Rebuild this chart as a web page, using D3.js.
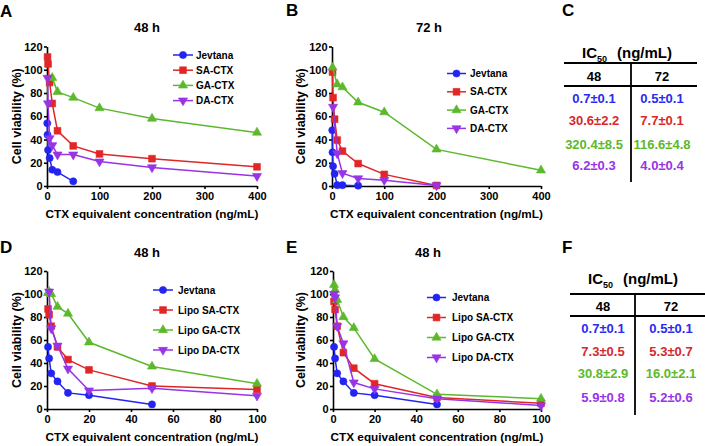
<!DOCTYPE html>
<html><head><meta charset="utf-8">
<script src="https://cdn.jsdelivr.net/npm/d3@7"></script>
<style>
body{margin:0;background:#fff}
svg{display:block}
text{font-family:Arial,"Liberation Sans",sans-serif;font-weight:bold}
</style>
</head><body>
<svg id="c" width="705" height="446"></svg>
<script>
// ---------- data ----------
const jevX = [0.5, 1, 2, 5, 10, 20, 50];
const jev48 = [54, 44, 31, 24, 14, 12, 4];
const jev72 = [48, 29, 17, 10.5, 0.7, 0.7, 0.3];

const saX48 = [1, 2, 5, 10, 20, 50, 100, 200, 400];
const sa48 = [111, 105, 89, 71, 47.5, 34.5, 27.6, 23.5, 16.5];
const gaX48 = [10, 20, 50, 100, 200, 400];
const ga48 = [93, 81, 76, 67, 58, 46];
const daX48 = [1, 2, 5, 10, 20, 50, 100, 200, 400];
const da48 = [93, 71, 41, 35, 27, 27, 21, 16, 8.5];

const saX72 = [1, 2, 5, 10, 20, 50, 100, 200];
const sa72 = [98, 76, 57.5, 39.5, 30, 19.3, 10, 0.5];
const gaX72 = [1, 10, 20, 50, 100, 200, 400];
const ga72 = [102, 87.5, 85, 72, 63.5, 31.5, 13.5];
const daX72 = [2, 10, 20, 50, 100, 200];
const da72 = [68, 28, 11, 6.5, 5, 0.5];

const lipoX = [0.5, 1, 2, 5, 10, 20, 50, 100];
const lipoSA_D = [87, 82, 72, 54, 43, 34, 20, 17];
const lipoGA_D = [101, 102, 100, 89, 83, 58, 37, 22];
const lipoDAX_D = [1, 2, 5, 10, 20, 50, 100];
const lipoDA_D = [102, 70, 55, 35, 16, 18, 11.5];

const lipoSA_E = [93.5, 86.5, 72, 49, 35.5, 22, 10, 5];
const lipoGA_E = [108, 103.5, 95, 80, 70.5, 43.5, 12.8, 9];
const lipoDA_E = [100, 97, 72, 57, 23, 17.5, 9, 3];

const namesTop = ["Jevtana", "SA-CTX", "GA-CTX", "DA-CTX"];
const namesBottom = ["Jevtana", "Lipo SA-CTX", "Lipo GA-CTX", "Lipo DA-CTX"];

const xTicks400 = [0, 100, 200, 300, 400];
const xTicks100 = [0, 20, 40, 60, 80, 100];
const yTicks = [0, 20, 40, 60, 80, 100, 120];

const icHeader = ["48", "72"];
const icC48 = ["0.7±0.1", "30.6±2.2", "320.4±8.5", "6.2±0.3"];
const icC72 = ["0.5±0.1", "7.7±0.1", "116.6±4.8", "4.0±0.4"];
const icF48 = ["0.7±0.1", "7.3±0.5", "30.8±2.9", "5.9±0.8"];
const icF72 = ["0.5±0.1", "5.3±0.7", "16.0±2.1", "5.2±0.6"];

// ---------- styles ----------
const colors = ["#2323f2", "#e12626", "#5cb82c", "#9933e6"];
const tableColors = ["#2a2af0", "#d82828", "#5cb82c", "#9933e6"];
const symbols = [
  {type: d3.symbolCircle, size: 40, rot: 0},
  {type: d3.symbolSquare, size: 46, rot: 0},
  {type: d3.symbolTriangle, size: 36, rot: 0},
  {type: d3.symbolTriangle, size: 36, rot: 180}
];
const FONT = 'Arial, "Liberation Sans", sans-serif';

const svg = d3.select("#c");
svg.append("rect").attr("width", 705).attr("height", 446).attr("fill", "#fff");

function zip(xs, ys) { return xs.map((v, i) => [v, ys[i]]); }

const panels = [
  {letter: "A", lx: 0, ly: 17, left: 47, right: 257, top: 46.5, bottom: 186, xmax: 400, xticks: xTicks400,
   title: "48 h", tx: 147, ty: 31.5, ylx: 17,
   series: [zip(jevX, jev48), zip(saX48, sa48), zip(gaX48, ga48), zip(daX48, da48)], names: namesTop,
   leg: {x1: 173, x2: 193, tx: 196, y0: 55, dy: 15.2}},
  {letter: "B", lx: 286, ly: 16, left: 332, right: 541, top: 46.5, bottom: 186, xmax: 400, xticks: xTicks400,
   title: "72 h", tx: 429, ty: 31.5, ylx: 301,
   series: [zip(jevX, jev72), zip(saX72, sa72), zip(gaX72, ga72), zip(daX72, da72)], names: namesTop,
   leg: {x1: 447, x2: 466, tx: 470, y0: 73.5, dy: 18.3}},
  {letter: "D", lx: 0, ly: 253, left: 47, right: 257, top: 271, bottom: 409, xmax: 100, xticks: xTicks100,
   title: "48 h", tx: 147, ty: 256.5, ylx: 17,
   series: [zip(jevX, jev48), zip(lipoX, lipoSA_D), zip(lipoX, lipoGA_D), zip(lipoDAX_D, lipoDA_D)], names: namesBottom,
   leg: {x1: 153, x2: 173, tx: 178, y0: 290, dy: 20}},
  {letter: "E", lx: 286, ly: 253, left: 333, right: 541, top: 271, bottom: 409, xmax: 100, xticks: xTicks100,
   title: "48 h", tx: 428, ty: 256.5, ylx: 301,
   series: [zip(jevX, jev48), zip(lipoX, lipoSA_E), zip(lipoX, lipoGA_E), zip(lipoX, lipoDA_E)], names: namesBottom,
   leg: {x1: 427, x2: 446, tx: 452, y0: 297.5, dy: 20}}
];

function marker(g, i, cx, cy) {
  const s = symbols[i];
  g.append("path")
    .attr("d", d3.symbol().type(s.type).size(s.size)())
    .attr("transform", `translate(${cx},${cy}) rotate(${s.rot})`)
    .attr("fill", colors[i]).attr("stroke", colors[i]).attr("stroke-width", 0.6);
}

panels.forEach(p => {
  const x = d3.scaleLinear().domain([0, p.xmax]).range([p.left, p.right]);
  const y = d3.scaleLinear().domain([0, 120]).range([p.bottom, p.top]);
  const g = svg.append("g");

  // letter & title
  g.append("text").attr("x", p.lx).attr("y", p.ly).attr("font-size", 17).text(p.letter);
  g.append("text").attr("x", p.tx).attr("y", p.ty).attr("text-anchor", "middle").attr("font-size", 13).text(p.title);

  // axes
  const xa = g.append("g").attr("transform", `translate(0,${p.bottom})`)
    .call(d3.axisBottom(x).tickValues(p.xticks).tickSize(3).tickPadding(3.5).tickSizeOuter(0));
  const ya = g.append("g").attr("transform", `translate(${p.left},0)`)
    .call(d3.axisLeft(y).tickValues(yTicks).tickSize(3).tickPadding(1.5).tickSizeOuter(0));
  [xa, ya].forEach(a => {
    a.attr("font-family", FONT).attr("font-size", 11).attr("font-weight", "bold");
    a.selectAll("path.domain,line").attr("stroke", "#000").attr("stroke-width", 1.6);
    a.selectAll("text").attr("fill", "#000");
  });

  // axis titles
  g.append("text").attr("transform", `translate(${p.ylx},${(p.top + p.bottom) / 2}) rotate(-90)`)
    .attr("text-anchor", "middle").attr("dy", "0.35em").attr("font-size", 12.5).text("Cell viability (%)");
  g.append("text").attr("x", (p.left + p.right) / 2).attr("y", p.bottom + 31.5)
    .attr("text-anchor", "middle").attr("font-size", 11.8).text("CTX equivalent concentration (ng/mL)");

  // series
  const line = d3.line().x(d => x(d[0])).y(d => y(d[1]));
  p.series.forEach((s, i) => {
    g.append("path").datum(s).attr("d", line).attr("fill", "none")
      .attr("stroke", colors[i]).attr("stroke-width", 1.5);
    s.forEach(d => marker(g, i, x(d[0]), y(d[1])));
  });

  // legend
  p.names.forEach((n, i) => {
    const yy = p.leg.y0 + i * p.leg.dy;
    g.append("line").attr("x1", p.leg.x1).attr("x2", p.leg.x2).attr("y1", yy).attr("y2", yy)
      .attr("stroke", colors[i]).attr("stroke-width", 1.5);
    marker(g, i, (p.leg.x1 + p.leg.x2) / 2, yy);
    g.append("text").attr("x", p.leg.tx).attr("y", yy).attr("dy", "0.35em")
      .attr("font-size", 10).text(n);
  });
});

// ---------- IC50 tables ----------
const tables = [
  {letter: "C", lx: 562, ly: 16, tStart: 582, tBase: 57.5, x1: 564, x2: 697, yTop: 63, yMid: 86, vx: 631, vBot: 182,
   hy: 81, c1: 594, c2: 662, rows: [98, 120, 144, 165], col1: icC48, col2: icC72},
  {letter: "F", lx: 562, ly: 253, tStart: 588, tBase: 283.5, x1: 570, x2: 705, yTop: 294, yMid: 316, vx: 635, vBot: 415,
   hy: 311, c1: 603, c2: 671, rows: [328, 351, 373, 397], col1: icF48, col2: icF72}
];

tables.forEach(t => {
  const g = svg.append("g");
  g.append("text").attr("x", t.lx).attr("y", t.ly).attr("font-size", 17).text(t.letter);
  const tt = g.append("text").attr("x", t.tStart).attr("y", t.tBase).attr("font-size", 15);
  tt.append("tspan").text("IC");
  tt.append("tspan").attr("font-size", 9).attr("dy", 4).text("50");
  tt.append("tspan").attr("dy", -4).attr("dx", 10).text("(ng/mL)");

  g.append("line").attr("x1", t.x1).attr("x2", t.x2).attr("y1", t.yTop).attr("y2", t.yTop).attr("stroke", "#000").attr("stroke-width", 1.8);
  g.append("line").attr("x1", t.x1).attr("x2", t.x2).attr("y1", t.yMid).attr("y2", t.yMid).attr("stroke", "#000").attr("stroke-width", 1.8);
  g.append("line").attr("x1", t.vx).attr("x2", t.vx).attr("y1", t.yTop).attr("y2", t.vBot).attr("stroke", "#000").attr("stroke-width", 1.8);

  g.append("text").attr("x", t.c1).attr("y", t.hy).attr("text-anchor", "middle").attr("font-size", 13).text(icHeader[0]);
  g.append("text").attr("x", t.c2).attr("y", t.hy).attr("text-anchor", "middle").attr("font-size", 13).text(icHeader[1]);

  t.rows.forEach((ry, i) => {
    g.append("text").attr("x", t.c1).attr("y", ry).attr("dy", "0.36em").attr("text-anchor", "middle")
      .attr("font-size", 13).attr("fill", tableColors[i]).text(t.col1[i]);
    g.append("text").attr("x", t.c2).attr("y", ry).attr("dy", "0.36em").attr("text-anchor", "middle")
      .attr("font-size", 13).attr("fill", tableColors[i]).text(t.col2[i]);
  });
});
</script>
</body></html>
